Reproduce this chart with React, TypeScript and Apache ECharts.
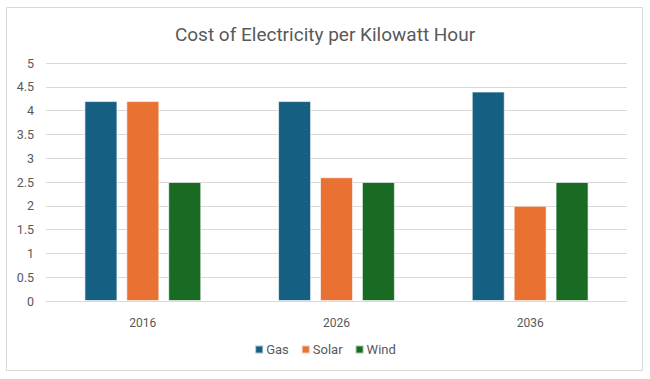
import React, { useEffect, useRef } from "react";
import * as echarts from "echarts";

const categories = ["2016", "2026", "2036"];
const gas = [4.2, 4.2, 4.4];
const solar = [4.2, 2.6, 2.0];
const wind = [2.5, 2.5, 2.5];
const seriesNames = ["Gas", "Solar", "Wind"];
const colors = ["#156082", "#E97132", "#196B24"];

export default function App() {
  const ref = useRef<HTMLDivElement>(null);
  useEffect(() => {
    if (!ref.current) return;
    const chart = echarts.init(ref.current, undefined, { renderer: "svg" });
    const font = "Roboto, 'Liberation Sans', sans-serif";
    const data = [gas, solar, wind];
    chart.setOption({
      animation: false,
      backgroundColor: "#ffffff",
      title: {
        text: "Cost of Electricity per Kilowatt Hour",
        left: "center",
        top: 20,
        textStyle: { color: "#595959", fontSize: 19, fontWeight: "normal", fontFamily: font },
      },
      graphic: [
        {
          type: "rect",
          shape: { x: 6.5, y: 7.5, width: 636, height: 363 },
          style: { fill: "none", stroke: "#d9d9d9", lineWidth: 1 },
          silent: true,
        },
      ],
      legend: {
        data: seriesNames,
        bottom: 18,
        left: "center",
        icon: "rect",
        itemWidth: 8,
        itemHeight: 8,
        itemGap: 12,
        textStyle: { color: "#595959", fontSize: 13, fontFamily: font, padding: [0, 0, 0, -2] },
      },
      grid: { left: 46, right: 23, top: 63, bottom: 78, containLabel: false },
      xAxis: {
        type: "category",
        data: categories,
        axisLine: { lineStyle: { color: "#d9d9d9", width: 1 } },
        axisTick: { show: false },
        axisLabel: { color: "#595959", fontSize: 12, fontFamily: font, margin: 16 },
      },
      yAxis: {
        type: "value",
        min: 0,
        max: 5,
        interval: 0.5,
        axisLine: { show: false },
        axisTick: { show: false },
        splitLine: { lineStyle: { color: "#d9d9d9", width: 1 } },
        axisLabel: { color: "#595959", fontSize: 12.5, fontFamily: font, margin: 12 },
      },
      series: seriesNames.map((name, i) => ({
        name,
        type: "bar",
        data: data[i],
        barWidth: 33,
        barGap: "27%",
        itemStyle: { color: colors[i], borderColor: "rgba(255,255,255,0.6)", borderWidth: 1 },
      })),
    });
    return () => chart.dispose();
  }, []);
  return (
    <div
      ref={ref}
      style={{ position: "fixed", left: 0, top: 0, width: 650, height: 379 }}
    />
  );
}
